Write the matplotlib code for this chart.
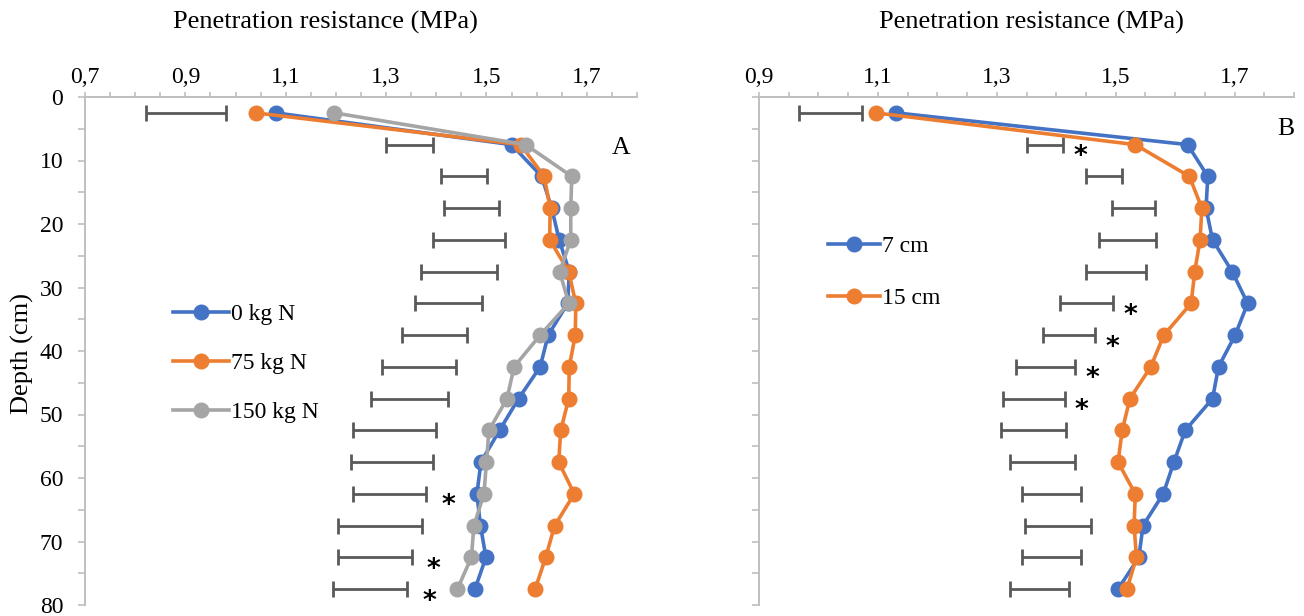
import matplotlib
matplotlib.use("Agg")
import matplotlib.pyplot as plt
from matplotlib.ticker import FixedLocator, MultipleLocator, FuncFormatter

# layer centre depths (cm)
depth = [2.5, 7.5, 12.5, 17.5, 22.5, 27.5, 32.5, 37.5,
         42.5, 47.5, 52.5, 57.5, 62.5, 67.5, 72.5, 77.5]

# --- panel A: N rates ---
a_labels = ["0 kg N", "75 kg N", "150 kg N"]
a_0n = [1.08, 1.55, 1.61, 1.63, 1.645, 1.665, 1.662, 1.623,
        1.607, 1.564, 1.526, 1.489, 1.481, 1.488, 1.499, 1.477]
a_75n = [1.04, 1.568, 1.615, 1.627, 1.626, 1.664, 1.678, 1.677,
         1.665, 1.664, 1.648, 1.644, 1.675, 1.636, 1.618, 1.597]
a_150n = [1.197, 1.578, 1.670, 1.668, 1.668, 1.646, 1.664, 1.607,
          1.555, 1.541, 1.505, 1.500, 1.495, 1.475, 1.470, 1.442]
a_lsd_lo = [0.822, 1.300, 1.410, 1.416, 1.394, 1.369, 1.358, 1.331,
            1.292, 1.270, 1.235, 1.231, 1.235, 1.204, 1.204, 1.194]
a_lsd_hi = [0.980, 1.394, 1.502, 1.525, 1.536, 1.521, 1.491, 1.461,
            1.440, 1.424, 1.400, 1.393, 1.379, 1.371, 1.351, 1.342]
a_star = [62.5, 72.5, 77.5]

# --- panel B: placement depth ---
b_labels = ["7 cm", "15 cm"]
b_7cm = [1.131, 1.621, 1.655, 1.652, 1.663, 1.696, 1.722, 1.701,
         1.673, 1.663, 1.617, 1.598, 1.580, 1.546, 1.539, 1.504]
b_15cm = [1.096, 1.533, 1.624, 1.645, 1.642, 1.633, 1.627, 1.581,
          1.559, 1.524, 1.511, 1.504, 1.533, 1.531, 1.535, 1.519]
b_lsd_lo = [0.967, 1.350, 1.450, 1.494, 1.472, 1.450, 1.407, 1.378,
            1.332, 1.310, 1.307, 1.323, 1.343, 1.347, 1.343, 1.323]
b_lsd_hi = [1.073, 1.412, 1.511, 1.567, 1.568, 1.551, 1.496, 1.466,
            1.432, 1.414, 1.417, 1.431, 1.441, 1.458, 1.441, 1.422]
b_star = [7.5, 32.5, 37.5, 42.5, 47.5]

COLORS = ["#4472C4", "#ED7D31", "#A5A5A5"]
AXIS_GRAY = "#BFBFBF"
BAR_GRAY = "#595959"

plt.rcParams["font.family"] = "Liberation Serif"

fig = plt.figure(figsize=(13.04, 6.16), dpi=100)
ax_a = fig.add_axes([85 / 1304, 1 - 605 / 616, 552 / 1304, 508 / 616])
ax_b = fig.add_axes([759 / 1304, 1 - 605 / 616, 535 / 1304, 508 / 616])


def comma(v, pos):
    return f"{v:.1f}".replace(".", ",")


def style_axis(ax, xmin, xmax, show_ylabels):
    ax.set_xlim(xmin, xmax)
    ax.set_ylim(80, 0)
    ax.xaxis.tick_top()
    ax.xaxis.set_major_locator(FixedLocator([xmin + 0.2 * i for i in range(6) if xmin + 0.2 * i <= xmax - 0.05]))
    ax.xaxis.set_minor_locator(MultipleLocator(0.05))
    ax.xaxis.set_major_formatter(FuncFormatter(comma))
    ax.yaxis.set_major_locator(MultipleLocator(10))
    ax.yaxis.set_minor_locator(MultipleLocator(5))
    for s in ["right", "bottom"]:
        ax.spines[s].set_visible(False)
    for s in ["top", "left"]:
        ax.spines[s].set_color(AXIS_GRAY)
        ax.spines[s].set_linewidth(1.4)
    ax.tick_params(axis="x", which="both", direction="out", color=AXIS_GRAY,
                   length=3.6, width=1.2, labelsize=17, pad=3, top=True, bottom=False)
    ax.tick_params(axis="y", which="both", direction="out", color=AXIS_GRAY,
                   length=4.7, width=1.2, labelsize=17, pad=11, labelleft=show_ylabels)
    ax.set_xlabel("Penetration resistance (MPa)", fontsize=19)
    ax.xaxis.set_label_position("top")


def lsd_bars(ax, lo, hi):
    mid = [(l + h) / 2 for l, h in zip(lo, hi)]
    half = [(h - l) / 2 for l, h in zip(lo, hi)]
    ax.errorbar(mid, depth, xerr=half, fmt="none", ecolor=BAR_GRAY,
                elinewidth=2, capsize=5.5, capthick=2, zorder=2)


def stars(ax, hi, star_depths, dx):
    for d in star_depths:
        i = depth.index(d)
        ax.annotate("*", xy=(hi[i], d), xytext=(dx, -9), textcoords="offset points",
                    ha="center", va="center", fontsize=19, fontweight="bold",
                    family="DejaVu Sans", color="black")


# ---- panel A ----
style_axis(ax_a, 0.7, 1.8, True)
ax_a.set_ylabel("Depth (cm)", fontsize=19)
ax_a.yaxis.set_label_coords(-0.092, 0.496)
ax_a.xaxis.set_label_coords(0.435, 1.134)
lsd_bars(ax_a, a_lsd_lo, a_lsd_hi)
stars(ax_a, a_lsd_hi, a_star, 16)
for vals, lab, c in zip([a_0n, a_75n, a_150n], a_labels, COLORS):
    ax_a.plot(vals, depth, color=c, lw=2.6, marker="o", ms=10.5, label=lab, zorder=3)
ax_a.legend(loc="center left", bbox_to_anchor=(0.16, 0.476), frameon=False,
            fontsize=17, handlelength=2.35, handletextpad=0.1, labelspacing=1.16,
            borderpad=0, borderaxespad=0)
ax_a.text(0.972, 0.9, "A", transform=ax_a.transAxes, fontsize=18.5, ha="center", va="center")

# ---- panel B ----
style_axis(ax_b, 0.9, 1.8, False)
ax_b.xaxis.set_label_coords(0.51, 1.134)
lsd_bars(ax_b, b_lsd_lo, b_lsd_hi)
stars(ax_b, b_lsd_hi, b_star, 12)
for vals, lab, c in zip([b_7cm, b_15cm], b_labels, COLORS):
    ax_b.plot(vals, depth, color=c, lw=2.6, marker="o", ms=10.5, label=lab, zorder=3)
ax_b.legend(loc="center left", bbox_to_anchor=(0.129, 0.655), frameon=False,
            fontsize=17, handlelength=2.2, handletextpad=0.1, labelspacing=1.29,
            borderpad=0, borderaxespad=0)
ax_b.text(0.984, 0.937, "B", transform=ax_b.transAxes, fontsize=18.5, ha="center", va="center")

fig.savefig("out.png", dpi=100)
